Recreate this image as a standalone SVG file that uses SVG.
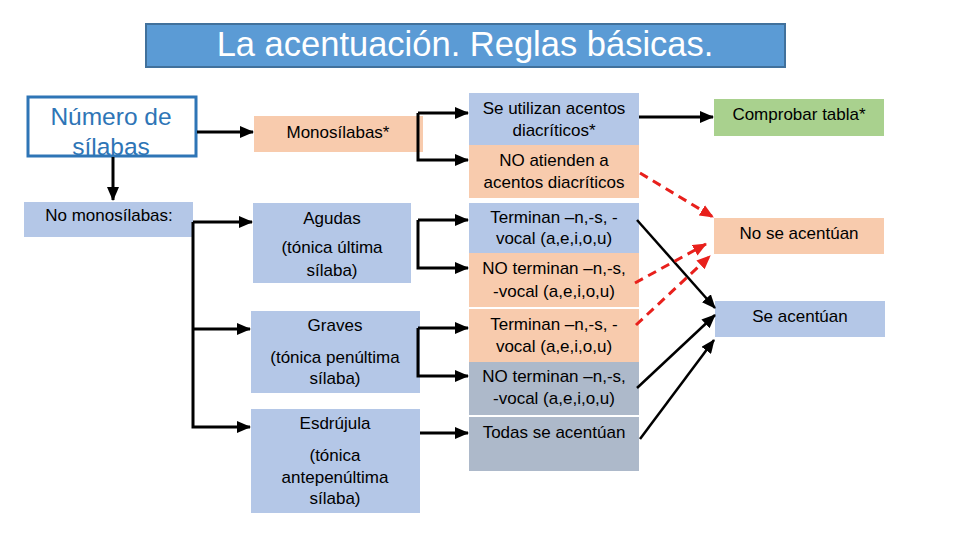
<svg xmlns="http://www.w3.org/2000/svg" width="960" height="540" viewBox="0 0 960 540">
<style>
.t{font-family:"Liberation Sans",Arial,sans-serif;font-size:17px;fill:#000;text-anchor:middle}
.blue{fill:#B4C7E7}
.orange{fill:#F8CBAD}
.gray{fill:#ADB9CA}
.green{fill:#A9D18E}
.k{fill:none;stroke:#000;stroke-width:3}
.kd{fill:none;stroke:#000;stroke-width:2.5}
.r{fill:none;stroke:#E8201C;stroke-width:3;stroke-dasharray:9 6}
</style>
<defs>
<marker id="ak" markerUnits="userSpaceOnUse" markerWidth="14" markerHeight="12" refX="13" refY="6" orient="auto"><path d="M0,0 L14,6 L0,12 z" fill="#000"/></marker>
<marker id="ar" markerUnits="userSpaceOnUse" markerWidth="14" markerHeight="12" refX="13" refY="6" orient="auto"><path d="M0,0 L14,6 L0,12 z" fill="#E8201C"/></marker>
</defs>
<rect width="960" height="540" fill="#fff"/>
<g id="title">
<rect x="146" y="24" width="639" height="43" fill="#5B9BD5" stroke="#41719C" stroke-width="2"/>
<text x="465" y="56" font-family="'Liberation Sans',Arial,sans-serif" font-size="34.5" fill="#fff" text-anchor="middle">La acentuación. Reglas básicas.</text>
</g>
<g id="numero">
<rect x="28" y="97" width="168" height="59" fill="#fff" stroke="#2E75B6" stroke-width="3"/>
<text x="111" y="125" font-family="'Liberation Sans',Arial,sans-serif" font-size="24.5" fill="#2E75B6" text-anchor="middle">Número de</text>
<text x="111" y="155" font-family="'Liberation Sans',Arial,sans-serif" font-size="24.5" fill="#2E75B6" text-anchor="middle">sílabas</text>
</g>
<g id="nomono">
<rect x="24" y="202" width="169" height="35" class="blue"/>
<text x="109" y="221" class="t">No monosílabas:</text>
</g>
<g id="monosilabas">
<rect x="254" y="116" width="169" height="36" class="orange"/>
<text x="338" y="138" class="t">Monosílabas*</text>
</g>
<g id="agudas">
<rect x="253" y="203" width="158" height="80" class="blue"/>
<text x="332" y="224" class="t">Agudas</text>
<text x="332" y="253" class="t">(tónica última</text>
<text x="332" y="276" class="t">sílaba)</text>
</g>
<g id="graves">
<rect x="251" y="311" width="169" height="82" class="blue"/>
<text x="335" y="331" class="t">Graves</text>
<text x="335" y="363" class="t">(tónica penúltima</text>
<text x="335" y="384" class="t">sílaba)</text>
</g>
<g id="esdrujula">
<rect x="251" y="409" width="169" height="104" class="blue"/>
<text x="335" y="429" class="t">Esdrújula</text>
<text x="335" y="461" class="t">(tónica</text>
<text x="335" y="483" class="t">antepenúltima</text>
<text x="335" y="504" class="t">sílaba)</text>
</g>
<g id="diacriticos">
<rect x="469" y="93" width="170" height="52" class="blue"/>
<text x="554" y="114" class="t">Se utilizan acentos</text>
<text x="554" y="136" class="t">diacríticos*</text>
</g>
<g id="noatienden">
<rect x="469" y="145" width="170" height="53" class="orange"/>
<text x="554" y="166" class="t">NO atienden a</text>
<text x="554" y="188" class="t">acentos diacríticos</text>
</g>
<g id="ag-terminan">
<rect x="469" y="203" width="170" height="50" class="blue"/>
<text x="554" y="223" class="t">Terminan –n,-s, -</text>
<text x="554" y="244" class="t">vocal (a,e,i,o,u)</text>
</g>
<g id="ag-noterminan">
<rect x="469" y="253" width="170" height="54" class="orange"/>
<text x="554" y="274" class="t">NO terminan –n,-s,</text>
<text x="554" y="297" class="t">-vocal (a,e,i,o,u)</text>
</g>
<g id="gr-terminan">
<rect x="469" y="309" width="170" height="53" class="orange"/>
<text x="554" y="330" class="t">Terminan –n,-s, -</text>
<text x="554" y="352" class="t">vocal (a,e,i,o,u)</text>
</g>
<g id="gr-noterminan">
<rect x="469" y="362" width="170" height="53" class="gray"/>
<text x="554" y="382" class="t">NO terminan –n,-s,</text>
<text x="554" y="404" class="t">-vocal (a,e,i,o,u)</text>
</g>
<g id="todas">
<rect x="469" y="417" width="170" height="54" class="gray"/>
<text x="554" y="438" class="t">Todas se acentúan</text>
</g>
<g id="comprobar">
<rect x="714" y="99" width="170" height="37" class="green"/>
<text x="799" y="120" class="t">Comprobar tabla*</text>
</g>
<g id="noseacentuan">
<rect x="714" y="218" width="170" height="36" class="orange"/>
<text x="799" y="239" class="t">No se acentúan</text>
</g>
<g id="seacentuan">
<rect x="715" y="301" width="170" height="36" class="blue"/>
<text x="800" y="322" class="t">Se acentúan</text>
</g>
<g id="connectors">
<path class="k" d="M197,132 H253" marker-end="url(#ak)"/>
<path class="k" d="M113,157 V200" marker-end="url(#ak)"/>
<path class="k" d="M193,222 H252" marker-end="url(#ak)"/>
<path class="k" d="M193,222 V427 H250" marker-end="url(#ak)"/>
<path class="k" d="M193,329 H250" marker-end="url(#ak)"/>
<path class="k" d="M418,113 H468" marker-end="url(#ak)"/>
<path class="k" d="M418,113 V160 H468" marker-end="url(#ak)"/>
<path class="k" d="M418,220 H468" marker-end="url(#ak)"/>
<path class="k" d="M418,220 V268 H468" marker-end="url(#ak)"/>
<path class="k" d="M418,328 H468" marker-end="url(#ak)"/>
<path class="k" d="M418,328 V376 H468" marker-end="url(#ak)"/>
<path class="k" d="M420,433 H468" marker-end="url(#ak)"/>
<path class="k" d="M639,117 H713" marker-end="url(#ak)"/>
<path class="kd" d="M637,220 L715,308" marker-end="url(#ak)"/>
<path class="kd" d="M637,388 L715,315" marker-end="url(#ak)"/>
<path class="kd" d="M640,439 L714,340" marker-end="url(#ak)"/>
<path class="r" d="M640,173 L713,217" marker-end="url(#ar)"/>
<path class="r" d="M635,283 L706,244" marker-end="url(#ar)"/>
<path class="r" d="M636,325 L710,256" marker-end="url(#ar)"/>
</g>
</svg>
